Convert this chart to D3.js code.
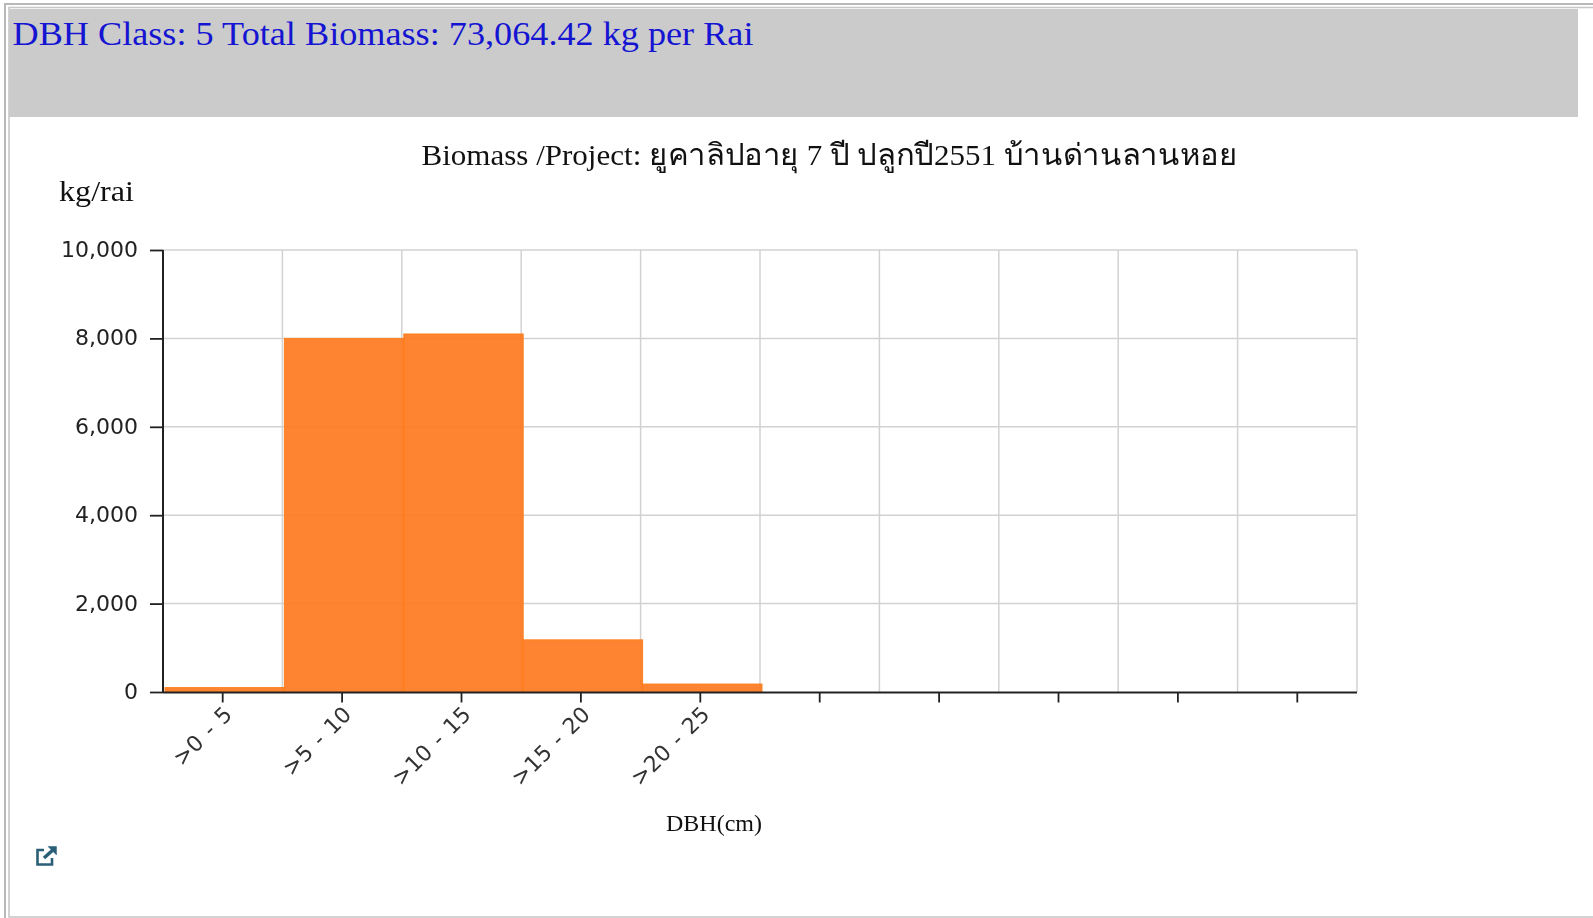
<!DOCTYPE html>
<html><head><meta charset="utf-8">
<script src="https://cdn.jsdelivr.net/npm/d3@7"></script>
<style>html,body{margin:0;padding:0;background:#fff;overflow:hidden}svg{display:block;filter:blur(0.45px)}</style>
</head><body><svg id="c" width="1593" height="918"></svg>
<script>
const slots = [0,1,2,3,4,5,6,7,8,9];
const tickLabels = [">0 - 5",">5 - 10",">10 - 15",">15 - 20",">20 - 25","","","","",""];
const biomass = [100,8000,8100,1180,180,0,0,0,0,0];
const yTicks = [0,2000,4000,6000,8000,10000];
const headerText = "DBH Class: 5 Total Biomass: 73,064.42 kg per Rai";
const titleText = "Biomass /Project: ยูคาลิปอายุ 7 ปี ปลูกปี2551 บ้านด่านลานหอย";
const yAxisTitle = "kg/rai";
const xAxisTitle = "DBH(cm)";

const serif = "'Liberation Serif','Noto Sans',serif";
const sans = "'DejaVu Sans',sans-serif";
const svg = d3.select("#c");
// page frame
svg.append("rect").attr("x",5).attr("y",4).attr("width",1600).attr("height",930).attr("fill","none").attr("stroke","#b8b8b8").attr("stroke-width",2);
svg.append("rect").attr("x",9).attr("y",7.5).attr("width",1600).attr("height",909.5).attr("fill","none").attr("stroke","#c8c8c8").attr("stroke-width",1.6);
svg.append("rect").attr("x",9).attr("y",9).attr("width",1569).attr("height",108).attr("fill","#cbcbcb");
svg.append("text").attr("x",12.5).attr("y",45).attr("font-family",serif).attr("font-size",34).attr("fill","#1414d2")
  .attr("textLength",741).attr("lengthAdjust","spacingAndGlyphs").text(headerText);

const x = d3.scaleBand().domain(slots).range([163,1357]);
const y = d3.scaleLinear().domain([0,10000]).range([692,250]);

const g = svg.append("g");
// grid
g.selectAll(".gx").data(d3.range(11)).join("line")
 .attr("x1",d=>163+d*x.bandwidth()).attr("x2",d=>163+d*x.bandwidth())
 .attr("y1",250).attr("y2",692).attr("stroke","#d2d2d2").attr("stroke-width",1.5);
g.selectAll(".gy").data(yTicks.slice(1)).join("line")
 .attr("x1",163).attr("x2",1357).attr("y1",d=>y(d)).attr("y2",d=>y(d)).attr("stroke","#d2d2d2").attr("stroke-width",1.5);
// bars
g.selectAll(".bar").data(slots.filter(i=>biomass[i]>0)).join("rect")
 .attr("x",d=>x(d)+2).attr("width",x.bandwidth())
 .attr("y",d=>y(biomass[d])).attr("height",d=>692-y(biomass[d]))
 .attr("fill","#ff7a20").attr("fill-opacity",.92).attr("stroke","#ff7a14").attr("stroke-opacity",.9).attr("stroke-width",1);
// axes
const ax = g.append("g").attr("transform","translate(0,692.5)").call(d3.axisBottom(x).tickSize(10).tickFormat(i=>tickLabels[i]));
ax.select(".domain").attr("stroke","#222").attr("stroke-width",2).attr("d","M163,0H1357");
ax.selectAll(".tick line").attr("stroke","#222").attr("stroke-width",1.8);
ax.selectAll("text").attr("font-family",sans).attr("font-size",22).attr("word-spacing",2).attr("fill","#333")
  .attr("text-anchor","end").attr("dx",-9).attr("dy",11).attr("transform","rotate(-45)");
const ay = g.append("g").attr("transform","translate(163,0)").call(d3.axisLeft(y).tickValues(yTicks).tickSize(13).tickFormat(d3.format(",")));
ay.select(".domain").attr("stroke","#222").attr("stroke-width",2).attr("d","M0,250V692");
ay.selectAll(".tick line").attr("stroke","#222").attr("stroke-width",1.8);
ay.selectAll("text").attr("font-family",sans).attr("font-size",22).attr("fill","#222").attr("x",-25).attr("y",-0.5);

svg.append("text").attr("x",829.5).attr("y",165).attr("text-anchor","middle").attr("font-family",serif).attr("font-size",30).attr("fill","#111")
  .attr("textLength",816).attr("lengthAdjust","spacingAndGlyphs").text(titleText);
svg.append("text").attr("x",59).attr("y",200.5).attr("font-family",serif).attr("font-size",29).attr("fill","#111")
  .attr("textLength",75).attr("lengthAdjust","spacingAndGlyphs").text(yAxisTitle);
svg.append("text").attr("x",714).attr("y",831).attr("text-anchor","middle").attr("font-family",serif).attr("font-size",24).attr("fill","#111").text(xAxisTitle);
// export icon
const ic = svg.append("g").attr("transform","translate(36,846)").attr("fill","none").attr("stroke","#2a5f78").attr("stroke-width",2.6);
ic.append("path").attr("d","M8,4H1.5V18.5H16V12");
ic.append("path").attr("d","M8,12L18,3").attr("stroke-width",3.4);
ic.append("path").attr("d","M12,0.5H20.5V9L12,0.5Z").attr("fill","#2a5f78").attr("stroke-width",0.5);
</script></body></html>
